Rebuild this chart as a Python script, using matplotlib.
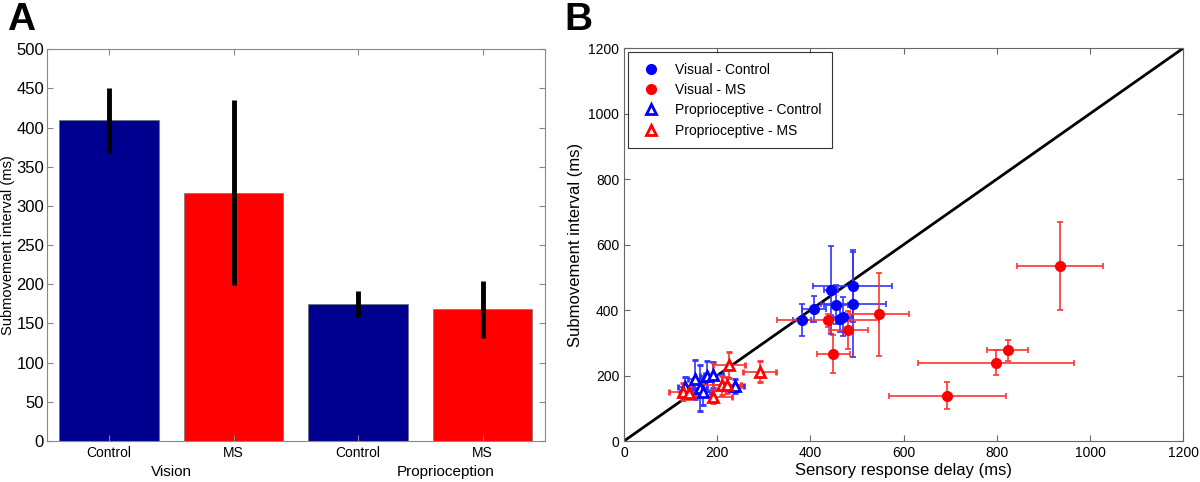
import numpy as np
from matplotlib import pyplot as plt
from matplotlib.lines import Line2D

plt.rcParams['font.family'] = ['Liberation Sans', 'DejaVu Sans']

# panel A: bar data
bar_labels = ["Control", "MS", "Control", "MS"]
bar_means = [409, 317, 175, 168]
bar_errs = [41, 118, 17, 36]
bar_colors = ["#00008f", "#ff0000", "#00008f", "#ff0000"]
group_labels = ["Vision", "Proprioception"]

# panel B: visual - control
vc_x = [382, 408, 444, 491, 455, 492, 464, 469]
vc_y = [369, 403, 461, 474, 416, 418, 372, 380]
vc_xe = [20, 25, 15, 85, 25, 70, 20, 20]
vc_ye = [49, 40, 135, 110, 60, 160, 40, 60]

# visual - MS
vm_x = [438, 481, 449, 548, 936, 823, 798, 694]
vm_y = [369, 339, 266, 387, 534, 277, 239, 139]
vm_xe = [110, 42, 35, 64, 92, 44, 168, 125]
vm_ye = [20, 58, 57, 127, 134, 33, 38, 40]

# proprioceptive - control
pc_x = [131, 152, 163, 179, 192, 238, 170]
pc_y = [166, 188, 162, 198, 201, 168, 150]
pc_xe = [15, 15, 15, 15, 20, 20, 15]
pc_ye = [30, 60, 70, 45, 40, 20, 40]

# proprioceptive - MS
pm_x = [126, 140, 192, 210, 220, 225, 291]
pm_y = [151, 148, 135, 170, 172, 232, 212]
pm_xe = [30, 20, 40, 40, 30, 35, 36]
pm_ye = [25, 20, 20, 30, 25, 40, 32]

fig = plt.figure(figsize=(12, 4.82), dpi=100)

# ---- A
ax1 = fig.add_axes([0.039, 0.085, 0.415, 0.813])
pos = np.arange(1, 5)
ax1.bar(pos, bar_means, width=0.8, color=bar_colors, edgecolor="#666666", linewidth=0.4)
ax1.errorbar(pos, bar_means, yerr=bar_errs, fmt="none", ecolor="black", elinewidth=3.5, capsize=0)
ax1.set_xlim(0.5, 4.5)
ax1.set_ylim(0, 500)
ax1.set_yticks(np.arange(0, 501, 50))
ax1.set_xticks(pos)
ax1.set_xticklabels(bar_labels, fontsize=10)
ax1.tick_params(axis="y", labelsize=12, pad=2)
ax1.tick_params(direction="in", top=True, right=True, color="#888888", length=4)
for s in ax1.spines.values():
    s.set_color("#888888")
ax1.set_ylabel("Submovement interval (ms)", fontsize=10.5, labelpad=1)
ax1.text(1.5, -0.062, group_labels[0], transform=ax1.get_xaxis_transform(), ha="center", va="top", fontsize=11)
ax1.text(3.7, -0.062, group_labels[1], transform=ax1.get_xaxis_transform(), ha="center", va="top", fontsize=11)
fig.text(0.006, 0.995, "A", fontsize=28, fontweight="bold", va="top")

# ---- B
ax2 = fig.add_axes([0.52, 0.085, 0.466, 0.815])
ax2.plot([0, 1200], [0, 1200], color="black", lw=2, zorder=1)
ek = dict(elinewidth=1.2, capsize=2, capthick=1.2, markersize=7, zorder=3)
ax2.errorbar(vc_x, vc_y, xerr=vc_xe, yerr=vc_ye, fmt="o", color="#0000ff", ecolor="#3333ff", **ek)
ax2.errorbar(vm_x, vm_y, xerr=vm_xe, yerr=vm_ye, fmt="o", color="#ff0000", ecolor="#ff3333", **ek)
ax2.errorbar(pc_x, pc_y, xerr=pc_xe, yerr=pc_ye, fmt="^", color="#0000ff", ecolor="#3333ff",
             mfc="white", mew=2, **ek)
ax2.errorbar(pm_x, pm_y, xerr=pm_xe, yerr=pm_ye, fmt="^", color="#ff0000", ecolor="#ff3333",
             mfc="white", mew=2, **ek)
ax2.set_xlim(0, 1200)
ax2.set_ylim(0, 1200)
ax2.set_xticks(np.arange(0, 1201, 200))
ax2.set_yticks(np.arange(0, 1201, 200))
ax2.tick_params(direction="in", top=True, right=True, color="#666666", length=4, labelsize=10)
for s in ax2.spines.values():
    s.set_color("#666666")
ax2.set_xlabel("Sensory response delay (ms)", fontsize=12, labelpad=2)
ax2.set_ylabel("Submovement interval (ms)", fontsize=12)

handles = [
    Line2D([], [], ls="none", marker="o", color="#0000ff", markersize=7),
    Line2D([], [], ls="none", marker="o", color="#ff0000", markersize=7),
    Line2D([], [], ls="none", marker="^", color="#0000ff", mfc="white", mew=2, markersize=7),
    Line2D([], [], ls="none", marker="^", color="#ff0000", mfc="white", mew=2, markersize=7),
]
names = ["Visual - Control", "Visual - MS", "Proprioceptive - Control", "Proprioceptive - MS"]
leg = ax2.legend(handles, names, loc="upper left", fontsize=10, frameon=True, fancybox=False,
                 edgecolor="black", handletextpad=0.8, borderaxespad=0.3, labelspacing=0.45,
                 borderpad=0.75, handlelength=1.8)
leg.get_frame().set_linewidth(0.8)
fig.text(0.47, 0.995, "B", fontsize=28, fontweight="bold", va="top")

fig.savefig("out.png", dpi=100)
